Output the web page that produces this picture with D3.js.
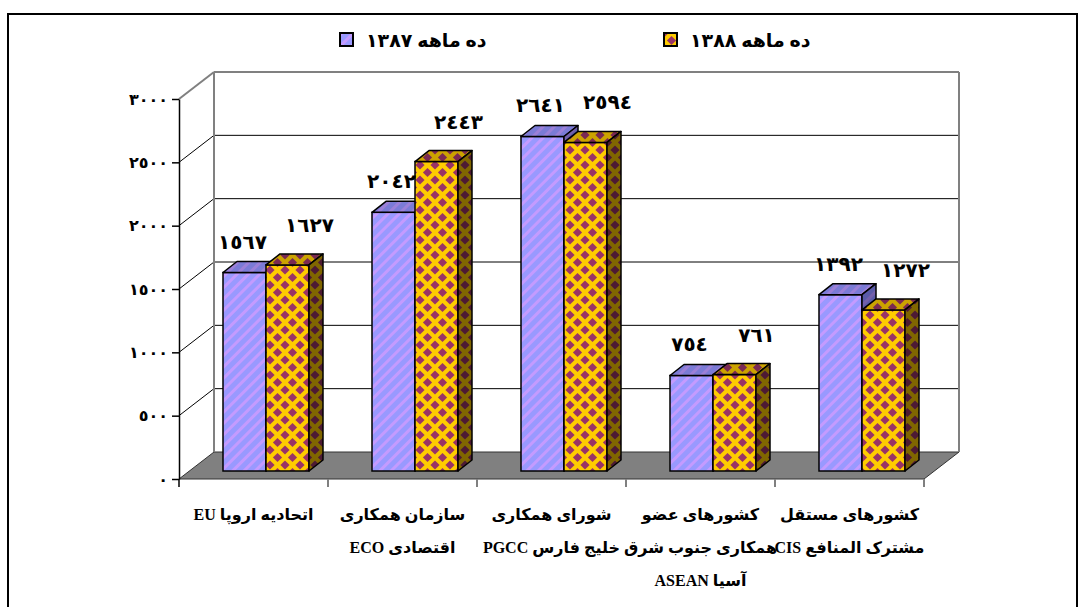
<!DOCTYPE html>
<html>
<head>
<meta charset="utf-8">
<script src="https://cdn.jsdelivr.net/npm/d3@7"></script>
<style>
body { margin: 0; background: #fff; }
text { font-family: 'Liberation Serif', 'DejaVu Sans', serif; font-weight: bold; }
</style>
</head>
<body>
<div id="main"></div>
<script>
var categories = ['EU', 'ECO', 'PGCC', 'ASEAN', 'CIS']
var category_lines = [
  ['اتحادیه اروپا EU'],
  ['سازمان همکاری', 'اقتصادی ECO'],
  ['شورای همکاری', 'خلیج فارس PGCC'],
  ['کشورهای عضو', 'همکاری جنوب شرق', 'آسیا ASEAN'],
  ['کشورهای مستقل', 'مشترک المنافع CIS']
]
var series_names = ['ده ماهه 1387', 'ده ماهه 1388']
var values_1387 = [1567, 2042, 2641, 754, 1392]
var values_1388 = [1627, 2443, 2594, 761, 1272]
var y_ticks = [0, 500, 1000, 1500, 2000, 2500, 3000]

// arabic-indic digits
function fa (n) {
  return String(n).replace(/[0-9]/g, function (c) { return '٠١٢٣٤٥٦٧٨٩'[+c] })
}

var w = 1085
var h = 607
var svg = d3.select('div#main').append('svg')
  .attr('width', w)
  .attr('height', h)
  .style('display', 'block')
  .style('background-color', 'white')

var defs = svg.append('defs')

function stripes (id, base, stripe) {
  var p = defs.append('pattern').attr('id', id)
    .attr('patternUnits', 'userSpaceOnUse')
    .attr('width', 8).attr('height', 8)
    .attr('patternTransform', 'rotate(45)')
  p.append('rect').attr('width', 8).attr('height', 8).attr('fill', base)
  p.append('rect').attr('width', 3).attr('height', 8).attr('fill', stripe)
}
function diamonds (id, base, dot) {
  var s = 15
  var r = 4.6
  var p = defs.append('pattern').attr('id', id)
    .attr('patternUnits', 'userSpaceOnUse')
    .attr('width', s).attr('height', s)
  p.append('rect').attr('width', s).attr('height', s).attr('fill', base)
  ;[[0, 0], [s, 0], [0, s], [s, s], [s / 2, s / 2]].forEach(function (c) {
    p.append('path')
      .attr('d', 'M' + (c[0] - r) + ',' + c[1] + 'L' + c[0] + ',' + (c[1] - r) +
        'L' + (c[0] + r) + ',' + c[1] + 'L' + c[0] + ',' + (c[1] + r) + 'Z')
      .attr('fill', dot)
  })
}
stripes('blue_front', '#9999FF', '#C49BFF')
stripes('blue_top', '#7B7BD6', '#9C80D8')
stripes('blue_side', '#5A5AA8', '#7460AA')
diamonds('gold_front', '#FFCC00', '#993366')
diamonds('gold_top', '#CCA300', '#7A2952')
diamonds('gold_side', '#806600', '#4D1A33')

var faces = [
  { front: 'url(#blue_front)', top: 'url(#blue_top)', side: 'url(#blue_side)' },
  { front: 'url(#gold_front)', top: 'url(#gold_top)', side: 'url(#gold_side)' }
]

// outer frame
svg.append('rect')
  .attr('x', 8).attr('y', 14)
  .attr('width', 1069).attr('height', 620)
  .attr('fill', 'none').attr('stroke', 'black').attr('stroke-width', 2)

// plot geometry
var x0 = 179
var x1 = 924
var wall_dx = 35
var wall_dy = -27
var bar_dx = 14
var bar_dy = -11
var bar_shift_x = 11
var bar_shift_y = -8

var scale_y = d3.scaleLinear().domain([0, 3000]).range([479, 99])
var scale_x = d3.scaleBand().domain(categories).range([x0, x1])
var scale_s = d3.scaleBand().domain([0, 1]).range([33, 33 + 86])

// floor
var y0 = scale_y(0)
svg.append('path')
  .attr('d', 'M' + x0 + ',' + y0 + 'L' + x1 + ',' + y0 + 'L' + (x1 + wall_dx) + ',' + (y0 + wall_dy) +
    'L' + (x0 + wall_dx) + ',' + (y0 + wall_dy) + 'Z')
  .attr('fill', '#808080').attr('stroke', '#333').attr('stroke-width', 1)

// gridlines on side wall and back wall
y_ticks.forEach(function (t) {
  if (t === 0) return
  var yy = scale_y(t)
  var col = t === 3000 ? '#808080' : 'black'
  svg.append('line')
    .attr('x1', x0).attr('y1', yy).attr('x2', x0 + wall_dx).attr('y2', yy + wall_dy)
    .attr('stroke', col).attr('stroke-width', t === 3000 ? 2 : 1)
  svg.append('line')
    .attr('x1', x0 + wall_dx).attr('y1', yy + wall_dy).attr('x2', x1 + wall_dx).attr('y2', yy + wall_dy)
    .attr('stroke', col).attr('stroke-width', t === 3000 ? 2 : 1)
})
// wall edges
svg.append('line')
  .attr('x1', x0 + wall_dx).attr('y1', scale_y(3000) + wall_dy)
  .attr('x2', x0 + wall_dx).attr('y2', y0 + wall_dy)
  .attr('stroke', '#808080').attr('stroke-width', 2)
svg.append('line')
  .attr('x1', x1 + wall_dx).attr('y1', scale_y(3000) + wall_dy)
  .attr('x2', x1 + wall_dx).attr('y2', y0 + wall_dy)
  .attr('stroke', '#808080').attr('stroke-width', 2)

// category ticks
categories.concat([null]).forEach(function (c) {
  var xx = c === null ? x1 : scale_x(c)
  if (xx === x0) return
  svg.append('line')
    .attr('x1', xx).attr('y1', y0).attr('x2', xx).attr('y2', y0 + 8)
    .attr('stroke', '#808080').attr('stroke-width', 2)
})

// y axis
var axis = svg.append('g')
  .attr('transform', 'translate(' + x0 + ',0)')
  .call(d3.axisLeft(scale_y).tickValues(y_ticks).tickSize(7).tickSizeOuter(0).tickPadding(4).tickFormat(fa))
axis.select('.domain').attr('stroke', 'black').attr('stroke-width', 1.5)
axis.selectAll('.tick line').attr('stroke', 'black').attr('stroke-width', 1.5)
axis.selectAll('.tick text')
  .style('font-size', '16px').style('font-family', "'DejaVu Sans', sans-serif").style('font-weight', 'bold')
  .attr('fill', 'black')
svg.append('line')
  .attr('x1', x0).attr('y1', y0).attr('x2', x0).attr('y2', y0 + 8)
  .attr('stroke', 'black').attr('stroke-width', 1.5)

// bars
var series = [values_1387, values_1388]
categories.forEach(function (c, i) {
  series.forEach(function (vals, j) {
    var v = vals[i]
    var bx = scale_x(c) + bar_shift_x + scale_s(j)
    var bw = scale_s.bandwidth()
    var top = scale_y(v) + bar_shift_y
    var bot = scale_y(0) + bar_shift_y
    var g = svg.append('g')
    g.append('rect')
      .attr('x', bx).attr('y', top).attr('width', bw).attr('height', bot - top)
      .attr('fill', faces[j].front).attr('stroke', 'black').attr('stroke-width', 1.5)
    g.append('path')
      .attr('d', 'M' + bx + ',' + top + 'L' + (bx + bw) + ',' + top + 'L' + (bx + bw + bar_dx) + ',' + (top + bar_dy) +
        'L' + (bx + bar_dx) + ',' + (top + bar_dy) + 'Z')
      .attr('fill', faces[j].top).attr('stroke', 'black').attr('stroke-width', 1.5).attr('stroke-linejoin', 'round')
    g.append('path')
      .attr('d', 'M' + (bx + bw) + ',' + top + 'L' + (bx + bw + bar_dx) + ',' + (top + bar_dy) +
        'L' + (bx + bw + bar_dx) + ',' + (bot + bar_dy) + 'L' + (bx + bw) + ',' + bot + 'Z')
      .attr('fill', faces[j].side).attr('stroke', 'black').attr('stroke-width', 1.5).attr('stroke-linejoin', 'round')
  })
})

// value labels
categories.forEach(function (c, i) {
  series.forEach(function (vals, j) {
    var v = vals[i]
    var cx = scale_x(c) + bar_shift_x + scale_s(j) + scale_s.bandwidth() / 2 + (j === 0 ? -2 : 22)
    var cy = scale_y(v) + bar_shift_y - (j === 0 ? 24 : 33)
    svg.append('text')
      .attr('x', cx).attr('y', cy)
      .attr('text-anchor', 'middle')
      .style('font-family', "'DejaVu Sans', sans-serif")
      .style('font-size', '20px')
      .attr('fill', 'black')
      .text(fa(v))
  })
})

// category labels
categories.forEach(function (c, i) {
  var cx = scale_x(c) + scale_x.bandwidth() / 2
  category_lines[i].forEach(function (line, k) {
    svg.append('text')
      .attr('x', cx).attr('y', 520 + k * 33)
      .attr('text-anchor', 'middle')
      .attr('direction', 'rtl')
      .style('font-size', '16px')
      .attr('fill', 'black')
      .text(line)
  })
})

// legend
var legend_x = [340, 664]
series_names.forEach(function (name, j) {
  var lg = svg.append('g').attr('transform', 'translate(' + legend_x[j] + ',33)')
  lg.append('rect')
    .attr('x', 0).attr('y', 0).attr('width', 13).attr('height', 13)
    .attr('fill', faces[j].front).attr('stroke', 'black').attr('stroke-width', 2)
  lg.append('text')
    .attr('x', 26).attr('y', 14)
    .attr('text-anchor', 'end')
    .attr('direction', 'rtl')
    .style('font-size', '19px')
    .attr('fill', 'black')
    .text(name.replace(/[0-9]+/, fa))
})
</script>
</body>
</html>
